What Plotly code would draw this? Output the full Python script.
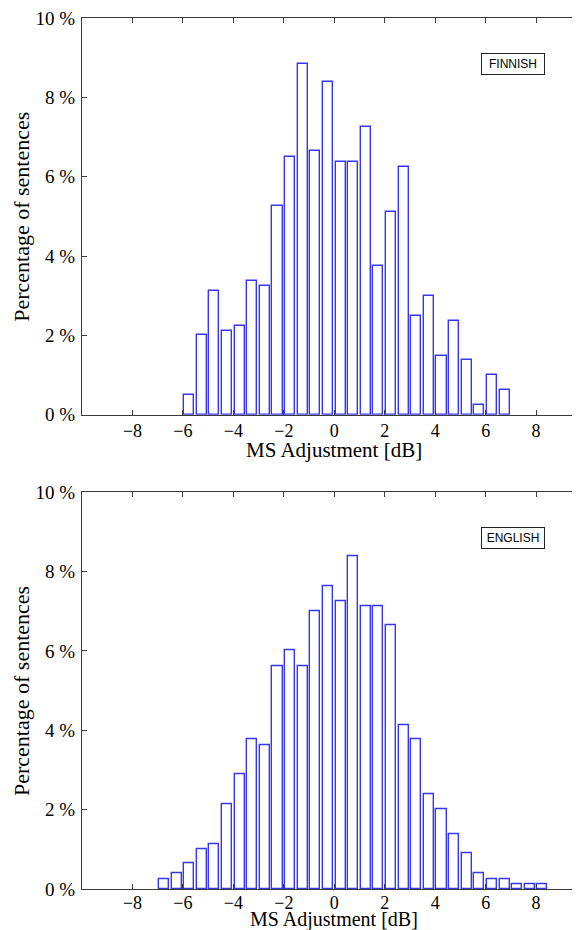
import plotly.graph_objects as go
from plotly.subplots import make_subplots

# ---- data ----
finnish_centers = [-5.75, -5.25, -4.75, -4.25, -3.75, -3.25, -2.75, -2.25, -1.75, -1.25,
                   -0.75, -0.25, 0.25, 0.75, 1.25, 1.75, 2.25, 2.75, 3.25, 3.75,
                   4.25, 4.75, 5.25, 5.75, 6.25, 6.75]
finnish_pct = [0.50, 2.00, 3.12, 2.12, 2.25, 3.38, 3.25, 5.26, 6.50, 8.85,
               6.64, 8.38, 6.38, 6.38, 7.25, 3.75, 5.12, 6.25, 2.50, 3.00,
               1.49, 2.37, 1.37, 0.24, 1.00, 0.62]

english_centers = [-6.75, -6.25, -5.75, -5.25, -4.75, -4.25, -3.75, -3.25, -2.75, -2.25,
                   -1.75, -1.25, -0.75, -0.25, 0.25, 0.75, 1.25, 1.75, 2.25, 2.75,
                   3.25, 3.75, 4.25, 4.75, 5.25, 5.75, 6.25, 6.75, 7.25, 7.75, 8.25]
english_pct = [0.26, 0.39, 0.65, 1.00, 1.14, 2.13, 2.89, 3.77, 3.63, 5.62,
               6.01, 5.62, 7.01, 7.64, 7.26, 8.39, 7.14, 7.14, 6.65, 4.13,
               3.77, 2.39, 2.01, 1.39, 0.90, 0.39, 0.26, 0.26, 0.13, 0.13, 0.13]

x_tickvals = [-8, -6, -4, -2, 0, 2, 4, 6, 8]
x_ticktext = ["\u22128", "\u22126", "\u22124", "\u22122", "0", "2", "4", "6", "8"]
y_tickvals = [0, 2, 4, 6, 8, 10]
y_ticktext = ["0 %", "2 %", "4 %", "6 %", "8 %", "10 %"]

x_title = "MS Adjustment [dB]"
y_title = "Percentage of sentences"
labels = ["FINNISH", "ENGLISH"]

BAR_EDGE = "rgb(55,55,240)"
AXIS_COL = "#3a3a3a"
SERIF = "Liberation Serif"
SANS = "Liberation Sans"

fig = make_subplots(rows=2, cols=1, vertical_spacing=0.0)

for i, (cx, vals) in enumerate([(finnish_centers, finnish_pct), (english_centers, english_pct)]):
    fig.add_trace(go.Bar(x=cx, y=vals, width=0.4,
                         marker=dict(color="rgba(255,255,255,0)",
                                     line=dict(color=BAR_EDGE, width=1.4)),
                         showlegend=False, hoverinfo="x+y"),
                  row=i + 1, col=1)

# the page body has an 8px margin, so the figure is drawn 8px in from the corner
OFF = 8
W, H = 580 - OFF, 930 - OFF
ml, mr, mt, mb = 82.3 - OFF, 0, 18.3 - OFF, 930 - 889
ph = H - mt - mb

def dom(top_img, bot_img):
    top_px, bot_px = top_img - OFF, bot_img - OFF
    return [(H - mb - bot_px) / ph, (H - mb - top_px) / ph]

fig.update_layout(
    width=W, height=H,
    margin=dict(l=ml, r=mr, t=mt, b=mb),
    paper_bgcolor="white", plot_bgcolor="white",
    bargap=0,
    font=dict(family=SERIF, size=18, color="black"),
)

common_x = dict(range=[-10, 9.74], tickvals=x_tickvals, ticktext=x_ticktext,
                showline=True, linecolor=AXIS_COL, linewidth=1, mirror="ticks",
                ticks="inside", ticklen=5, tickcolor=AXIS_COL, showgrid=False,
                zeroline=False, automargin=False, ticklabeloverflow="allow",
                tickfont=dict(family=SERIF, size=18, color="black"))
common_y = dict(range=[0, 10], tickvals=y_tickvals, ticktext=y_ticktext,
                showline=True, linecolor=AXIS_COL, linewidth=1, mirror=False,
                ticks="inside", ticklen=5, tickcolor=AXIS_COL, showgrid=False,
                zeroline=False, automargin=False, ticklabelstandoff=2,
                ticklabeloverflow="allow",
                tickfont=dict(family=SERIF, size=19, color="black"))

fig.update_xaxes(**common_x)
fig.update_yaxes(**common_y)
fig.update_layout(
    yaxis=dict(domain=dom(18.3, 415)),
    yaxis2=dict(domain=dom(492.3, 889)),
    xaxis2=dict(ticklabelstandoff=-3),
)

xtitle_shift = [-35, -30]
xtitle_size = [21, 20]
for i in range(2):
    xr = "x" if i == 0 else "x2"
    yr = "y" if i == 0 else "y2"
    # x-axis title
    fig.add_annotation(x=0, y=0, xref=xr, yref=f"{yr} domain", text=x_title,
                       showarrow=False, yanchor="middle", yshift=xtitle_shift[i],
                       font=dict(family=SERIF, size=xtitle_size[i], color="black"))
    # y-axis title
    fig.add_annotation(x=0, y=0.5, xref=f"{xr} domain", yref=f"{yr} domain",
                       text=y_title, showarrow=False, textangle=-90,
                       xanchor="center", yanchor="middle", xshift=-(82.3 - 21.7),
                       font=dict(family=SERIF, size=22, color="black"))
    # language label box
    fig.add_annotation(x=7.09, y=8.85, xref=xr, yref=yr,
                       text=labels[i], showarrow=False,
                       font=dict(family=SANS, size=12, color="black"),
                       bordercolor="#222", borderwidth=1, borderpad=3,
                       bgcolor="white", width=56, height=14)

fig.write_html("out.html")
